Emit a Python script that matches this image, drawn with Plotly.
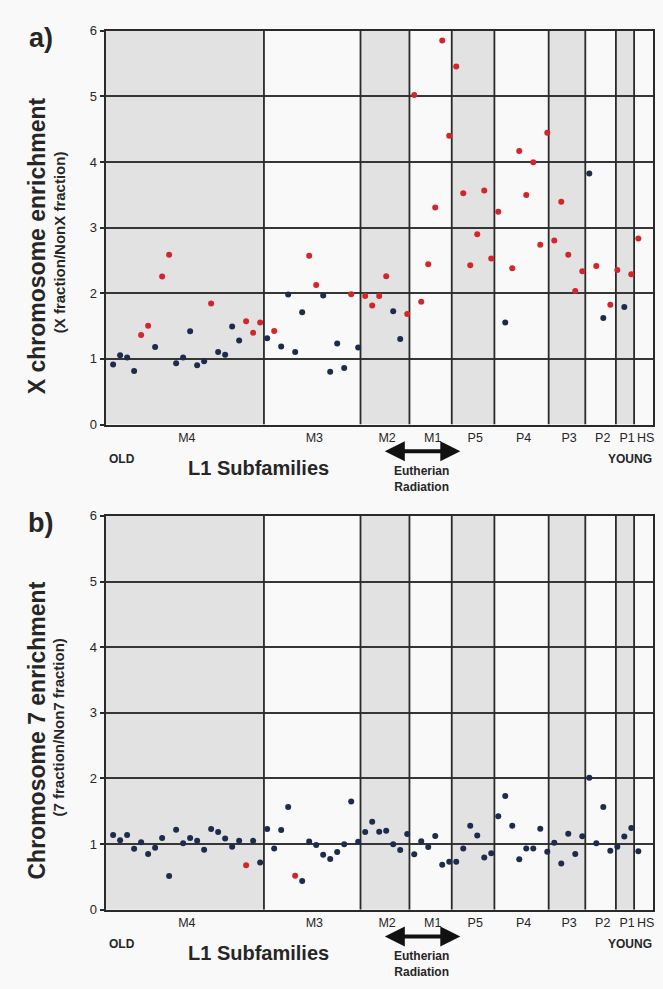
import plotly.graph_objects as go

# ---------------- data ----------------
subfamilies = ["M4", "M3", "M2", "M1", "P5", "P4", "P3", "P2", "P1", "HS"]
# region edges (in point-index units), oldest -> youngest
region_edges = [-1.08, 21.54, 35.33, 42.32, 48.36, 54.45, 62.2, 67.43, 71.8, 74.4, 77.1]
region_shaded = [1, 0, 1, 0, 1, 0, 1, 0, 1, 0]

x_enrichment = [
    0.915, 1.055, 1.02, 0.815, 1.365, 1.505, 1.18, 2.255, 2.585, 0.935,
    1.02, 1.42, 0.905, 0.965, 1.845, 1.105, 1.065, 1.495, 1.28, 1.575,
    1.40, 1.555, 1.315, 1.425, 1.19, 1.98, 1.105, 1.71, 2.57, 2.125,
    1.965, 0.805, 1.235, 0.86, 1.985, 1.175, 1.96, 1.815, 1.96, 2.26,
    1.725, 1.305, 1.685, 5.02, 1.87, 2.44, 3.305, 5.85, 4.40, 5.455,
    3.525, 2.425, 2.90, 3.565, 2.53, 3.24, 1.555, 2.38, 4.165, 3.495,
    3.995, 2.74, 4.445, 2.805, 3.395, 2.585, 2.035, 2.335, 3.825, 2.415,
    1.625, 1.825, 2.355, 1.79, 2.29, 2.835,
]
x_significant = [
    0, 0, 0, 0, 1, 1, 0, 1, 1, 0,
    0, 0, 0, 0, 1, 0, 0, 0, 0, 1,
    1, 1, 0, 1, 0, 0, 0, 0, 1, 1,
    0, 0, 0, 0, 1, 0, 1, 1, 1, 1,
    0, 0, 1, 1, 1, 1, 1, 1, 1, 1,
    1, 1, 1, 1, 1, 1, 0, 1, 1, 1,
    1, 1, 1, 1, 1, 1, 1, 1, 0, 1,
    0, 1, 1, 0, 1, 1,
]

chr7_enrichment = [
    1.14, 1.06, 1.14, 0.93, 1.03, 0.85, 0.945, 1.095, 0.515, 1.22,
    1.015, 1.095, 1.05, 0.915, 1.23, 1.185, 1.085, 0.96, 1.05, 0.68,
    1.05, 0.72, 1.23, 0.935, 1.215, 1.565, 0.52, 0.44, 1.04, 0.985,
    0.84, 0.775, 0.88, 1.0, 1.65, 1.035, 1.185, 1.34, 1.19, 1.205,
    1.0, 0.91, 1.155, 0.845, 1.045, 0.955, 1.125, 0.685, 0.73, 0.73,
    0.935, 1.28, 1.13, 0.795, 0.86, 1.425, 1.735, 1.28, 0.77, 0.935,
    0.935, 1.235, 0.885, 1.02, 0.705, 1.16, 0.85, 1.12, 2.01, 1.015,
    1.565, 0.9, 0.96, 1.115, 1.245, 0.89,
]
chr7_significant = [0] * 76
chr7_significant[19] = 1
chr7_significant[26] = 1

y_ticks = [0, 1, 2, 3, 4, 5, 6]

# ---------------- style ----------------
W, H = 663, 989
FONT = "Liberation Sans, Arial, Helvetica, sans-serif"
RED = "#d2262a"
NAVY = "#1d2b4c"
LINE = "#2a2a2a"
SHADE = "#e2e2e2"
BG = "#f9f9f9"

def px(x):
    return x / W

def py(y):
    return 1 - y / H

x_idx = list(range(len(x_enrichment)))
centers = [(region_edges[i] + region_edges[i + 1]) / 2 for i in range(len(subfamilies))]

fig = go.Figure()

panels = [
    dict(vals=x_enrichment, sig=x_significant, xa="x", ya="y", top=24.0,
         title="X chromosome enrichment", sub="(X fraction/NonX fraction)", tag="a)"),
    dict(vals=chr7_enrichment, sig=chr7_significant, xa="x2", ya="y2", top=516.7,
         title="Chromosome 7 enrichment", sub="(7 fraction/Non7 fraction)", tag="b)"),
]

shapes = []
annotations = []
for k, p in enumerate(panels):
    colors = [RED if s else NAVY for s in p["sig"]]
    fig.add_trace(go.Scatter(
        x=x_idx, y=p["vals"], mode="markers", xaxis=p["xa"], yaxis=p["ya"],
        marker=dict(size=6, color=colors, line=dict(width=0)),
        showlegend=False, hoverinfo="x+y",
    ))
    # shaded subfamily bands
    for i, sh in enumerate(region_shaded):
        if sh:
            shapes.append(dict(type="rect", xref=p["xa"], yref=p["ya"],
                               x0=region_edges[i], x1=region_edges[i + 1], y0=0, y1=6,
                               fillcolor=SHADE, line=dict(width=0), layer="below"))
    # subfamily boundary lines
    for e in region_edges[1:-1]:
        shapes.append(dict(type="line", xref=p["xa"], yref=p["ya"],
                           x0=e, x1=e, y0=0, y1=6,
                           line=dict(color=LINE, width=1.8), layer="between"))

    top = p["top"]
    off = top - 24.0
    # y titles
    annotations.append(dict(xref="paper", yref="paper", x=px(37), y=py(top + 218),
                            text="<b>%s</b>" % p["title"], textangle=-90, showarrow=False,
                            font=dict(family=FONT, size=23, color="#262626"),
                            xanchor="center", yanchor="middle"))
    annotations.append(dict(xref="paper", yref="paper", x=px(59), y=py(top + 215),
                            text="<b>%s</b>" % p["sub"], textangle=-90, showarrow=False,
                            font=dict(family=FONT, size=15, color="#262626"),
                            xanchor="center", yanchor="middle"))
    annotations.append(dict(xref="paper", yref="paper", x=px(41), y=py(31 + off),
                            text="<b>%s</b>" % p["tag"], showarrow=False,
                            font=dict(family=FONT, size=27, color="#262626"),
                            xanchor="center", yanchor="middle"))
    # lower labels
    annotations.append(dict(xref="paper", yref="paper", x=px(122), y=py(459 + off),
                            text="<b>OLD</b>", showarrow=False,
                            font=dict(family=FONT, size=12, color="#262626"),
                            xanchor="center", yanchor="middle"))
    annotations.append(dict(xref="paper", yref="paper", x=px(631), y=py(459 + off),
                            text="<b>YOUNG</b>", showarrow=False,
                            font=dict(family=FONT, size=12, color="#262626"),
                            xanchor="center", yanchor="middle"))
    annotations.append(dict(xref="paper", yref="paper", x=px(259), y=py(468 + off),
                            text="<b>L1 Subfamilies</b>", showarrow=False,
                            font=dict(family=FONT, size=20, color="#262626"),
                            xanchor="center", yanchor="middle"))
    annotations.append(dict(xref="paper", yref="paper", x=px(422), y=py(479.5 + off),
                            text="<b>Eutherian<br>Radiation</b>", showarrow=False,
                            font=dict(family=FONT, size=12, color="#262626"),
                            xanchor="center", yanchor="middle"))
    annotations.append(dict(xref="paper", yref="paper", x=px(461), y=py(451 + off),
                            ax=-77, ay=0, text="", showarrow=True,
                            arrowhead=2, arrowside="end+start", arrowsize=1.0,
                            arrowwidth=4, arrowcolor="#111111", standoff=0, startstandoff=0))

axis_common = dict(showline=True, mirror=True, linecolor=LINE, linewidth=2, zeroline=False)
layout_axes = {}
for k, p in enumerate(panels):
    top = p["top"]
    xname = "xaxis" if k == 0 else "xaxis2"
    yname = "yaxis" if k == 0 else "yaxis2"
    layout_axes[xname] = dict(
        domain=[px(105.7), px(654)], range=[region_edges[0], region_edges[-1]],
        tickmode="array", tickvals=[c + 0.3 for c in centers], ticktext=subfamilies,
        ticks="", showgrid=False, anchor="y" if k == 0 else "y2", tickangle=0,
        tickfont=dict(family=FONT, size=12.5, color="#262626"),
        fixedrange=True, **axis_common)
    layout_axes[yname] = dict(
        domain=[py(top + 400), py(top)], range=[0, 6],
        tickmode="array", tickvals=y_ticks, ticks="outside", ticklen=4, tickwidth=1.5,
        tickcolor=LINE, showgrid=True, gridcolor="#363636", gridwidth=1.6,
        anchor="x" if k == 0 else "x2",
        tickfont=dict(family=FONT, size=13, color="#262626"),
        fixedrange=True, **axis_common)

fig.update_layout(
    width=W, height=H, autosize=False,
    margin=dict(l=0, r=0, t=0, b=0, pad=0),
    paper_bgcolor=BG, plot_bgcolor=BG,
    shapes=shapes, annotations=annotations,
    font=dict(family=FONT),
    **layout_axes,
)

fig.write_html("out.html", config={"displayModeBar": False},
               post_script="document.body.style.margin='0px';document.body.style.overflow='hidden';")
